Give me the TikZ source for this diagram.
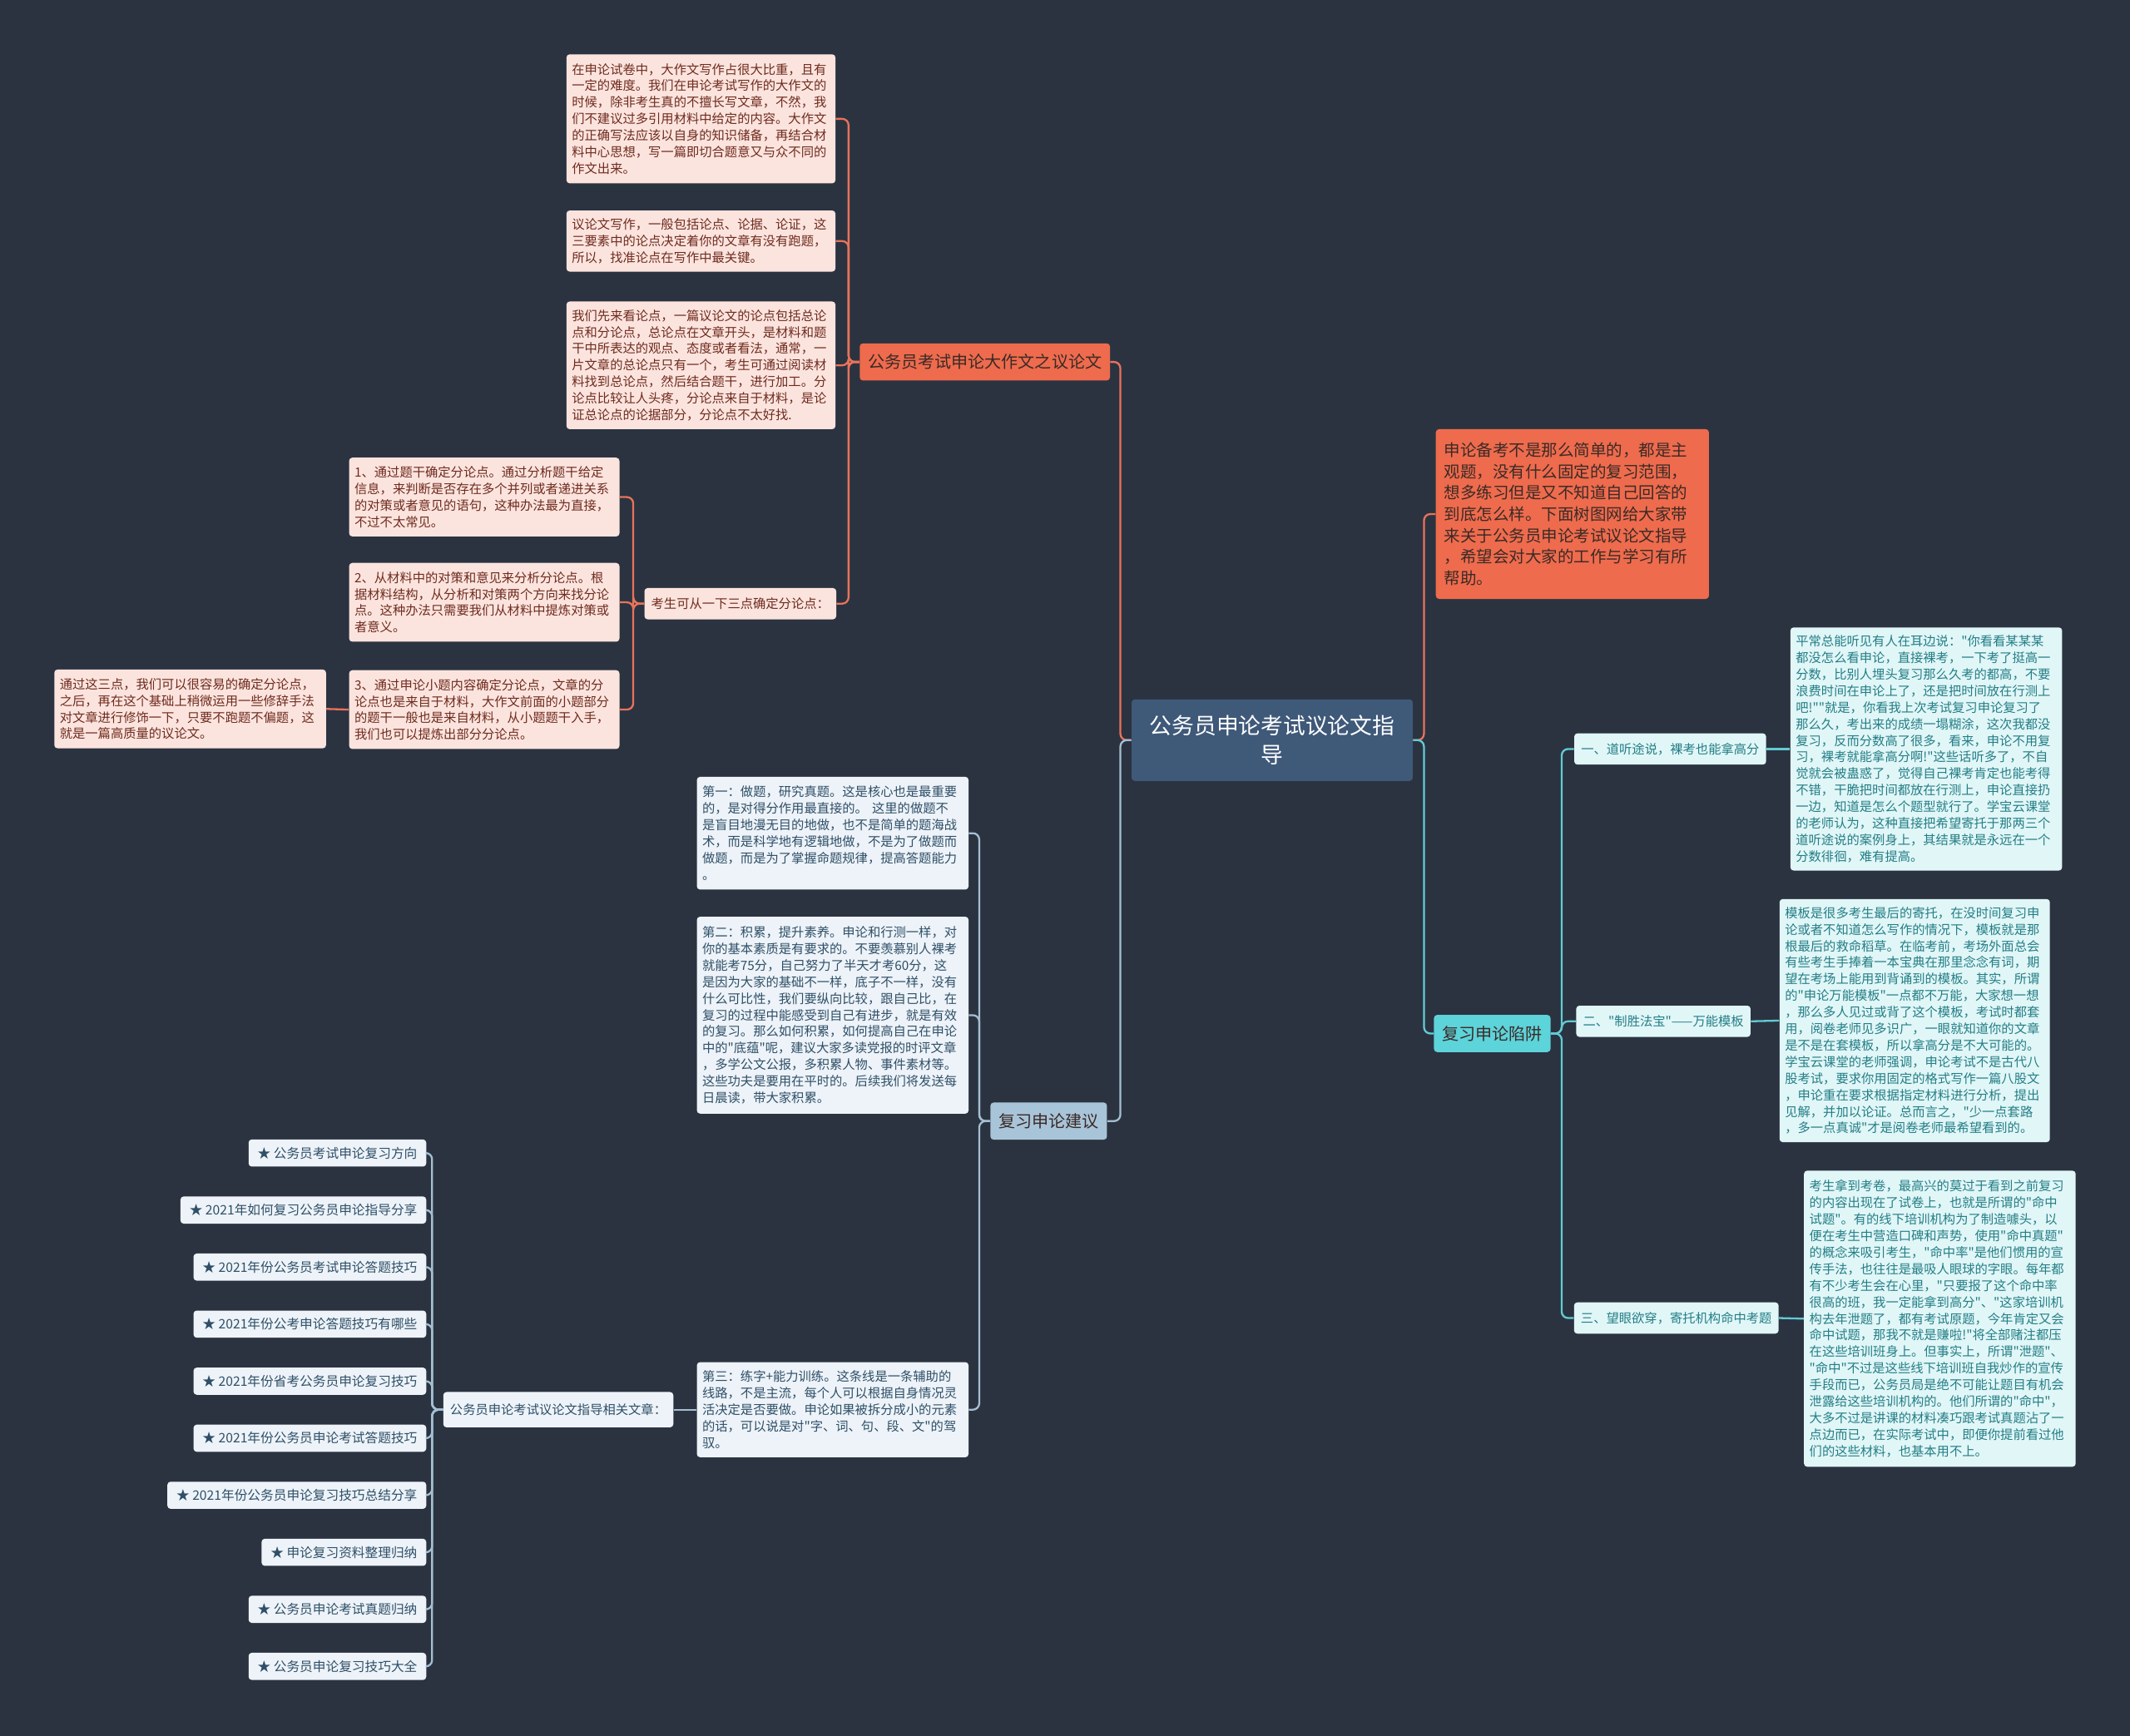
\documentclass[tikz,border=0pt]{standalone}
\usepackage{fontspec}
\newfontfamily\cjk{Noto Sans CJK SC}
\usepackage{xcolor}
\usepackage{tikz}
\usetikzlibrary{positioning}

\definecolor{bgdark}{HTML}{2B3341}
\definecolor{pinkfill}{HTML}{FCE4DE}
\definecolor{pinktext}{HTML}{6E2B1F}
\definecolor{orangefill}{HTML}{EE6B4D}
\definecolor{orangeline}{HTML}{E9735A}
\definecolor{darktext}{HTML}{3A2A26}
\definecolor{cyanfill}{HTML}{E1F6F7}
\definecolor{cyantext}{HTML}{237E86}
\definecolor{cyanmain}{HTML}{5DD3DA}
\definecolor{cyanline}{HTML}{62CCD3}
\definecolor{centerfill}{HTML}{3F5979}
\definecolor{bluefill}{HTML}{EDF3F8}
\definecolor{bluetext}{HTML}{2F4F68}
\definecolor{bluemain}{HTML}{A8C4D9}
\definecolor{blueline}{HTML}{A5BFD2}

\begin{document}
\begin{tikzpicture}[x=0.03cm, y=-0.03cm,
  small/.style={font=\cjk\fontsize{8}{10.4}\selectfont},
  pinkbox/.style={small, fill=pinkfill, text=pinktext, rounded corners=2pt, align=left, inner xsep=0.12cm, inner ysep=0pt},
  cyanbox/.style={small, fill=cyanfill, text=cyantext, rounded corners=2pt, align=left, inner xsep=0.12cm, inner ysep=0pt},
  bluebox/.style={small, fill=bluefill, text=bluetext, rounded corners=2pt, align=left, inner xsep=0.12cm, inner ysep=0pt},
  tag/.style={font=\cjk\fontsize{10.5}{13}\selectfont, rounded corners=2pt, inner xsep=0.18cm, inner ysep=0pt, minimum height=0.82cm},
  smalltag/.style={small, rounded corners=2pt, inner xsep=0.15cm, inner ysep=0pt, minimum height=0.69cm},
  listitem/.style={font=\cjk\fontsize{8.2}{10.4}\selectfont, fill=bluefill, text=bluetext, rounded corners=2pt, inner xsep=0.2cm, inner ysep=0pt, minimum height=0.6cm, anchor=east},
  linkorange/.style={draw=orangeline, line width=1.2pt, rounded corners=4pt},
  linkcyan/.style={draw=cyanline, line width=1.2pt, rounded corners=4pt},
  linkblue/.style={draw=blueline, line width=1.2pt, rounded corners=4pt}]

% background
\fill[bgdark] (0,0) rectangle (1568,1278);
\useasboundingbox (0,0) rectangle (1568,1278);

% centre
\node[fill=centerfill, text=white, rounded corners=2pt, align=center, minimum width=6.21cm, minimum height=1.8cm,
  font=\cjk\fontsize{14}{18.5}\selectfont] (center) at (936.5,545) {公务员申论考试议论文指\\导};

% upper left branch
\node[tag, fill=orangefill, text=darktext] (essay) at (725,266.5) {公务员考试申论大作文之议论文};
\node[pinkbox, text width=5.7cm, minimum height=2.85cm] (a1) at (516,87.5) {在申论试卷中，大作文写作占很大比重，且有\\一定的难度。我们在申论考试写作的大作文的\\时候，除非考生真的不擅长写文章，不然，我\\们不建议过多引用材料中给定的内容。大作文\\的正确写法应该以自身的知识储备，再结合材\\料中心思想，写一篇即切合题意又与众不同的\\作文出来。};
\node[pinkbox, text width=5.7cm, minimum height=1.35cm] (a2) at (516,177.5) {议论文写作，一般包括论点、论据、论证，这\\三要素中的论点决定着你的文章有没有跑题，\\所以，找准论点在写作中最关键。};
\node[pinkbox, text width=5.7cm, minimum height=2.82cm] (a3) at (516,269) {我们先来看论点，一篇议论文的论点包括总论\\点和分论点，总论点在文章开头，是材料和题\\干中所表达的观点、态度或者看法，通常，一\\片文章的总论点只有一个，考生可通过阅读材\\料找到总论点，然后结合题干，进行加工。分\\论点比较让人头疼，分论点来自于材料，是论\\证总论点的论据部分，分论点不太好找.};
\node[smalltag, fill=pinkfill, text=pinktext] (three) at (545,444.5) {考生可从一下三点确定分论点：};
\node[pinkbox, text width=5.73cm, minimum height=1.74cm] (b1) at (356.5,366) {1、通过题干确定分论点。通过分析题干给定\\信息，来判断是否存在多个并列或者递进关系\\的对策或者意见的语句，这种办法最为直接，\\不过不太常见。};
\node[pinkbox, text width=5.73cm, minimum height=1.74cm] (b2) at (356.5,443.5) {2、从材料中的对策和意见来分析分论点。根\\据材料结构，从分析和对策两个方向来找分论\\点。这种办法只需要我们从材料中提炼对策或\\者意义。};
\node[pinkbox, text width=5.73cm, minimum height=1.74cm] (b3) at (356.5,522.5) {3、通过申论小题内容确定分论点，文章的分\\论点也是来自于材料，大作文前面的小题部分\\的题干一般也是来自材料，从小题题干入手，\\我们也可以提炼出部分分论点。};
\node[pinkbox, text width=5.76cm, minimum height=1.74cm] (b4) at (140,522) {通过这三点，我们可以很容易的确定分论点，\\之后，再在这个基础上稍微运用一些修辞手法\\对文章进行修饰一下，只要不跑题不偏题，这\\就是一篇高质量的议论文。};

% upper right intro
\node[fill=orangefill, text=darktext, rounded corners=2pt, align=left, text width=5.67cm, inner xsep=0.18cm, inner ysep=0pt,
  minimum height=3.75cm, font=\cjk\fontsize{10.2}{13.4}\selectfont] (intro) at (1157.5,378.5) {申论备考不是那么简单的，都是主\\观题，没有什么固定的复习范围，\\想多练习但是又不知道自己回答的\\到底怎么样。下面树图网给大家带\\来关于公务员申论考试议论文指导\\，希望会对大家的工作与学习有所\\帮助。};

% lower right branch
\node[tag, fill=cyanmain, text=darktext] (trap) at (1098.5,761) {复习申论陷阱};
\node[smalltag, fill=cyanfill, text=cyantext] (t1) at (1229.5,551.5) {一、道听途说，裸考也能拿高分};
\node[smalltag, fill=cyanfill, text=cyantext] (t2) at (1224.5,752) {二、"制胜法宝"——万能模板};
\node[smalltag, fill=cyanfill, text=cyantext] (t3) at (1234,970.5) {三、望眼欲穿，寄托机构命中考题};
\node[cyanbox, text width=5.76cm, minimum height=5.37cm] (r1) at (1418,551.5) {平常总能听见有人在耳边说："你看看某某某\\都没怎么看申论，直接裸考，一下考了挺高一\\分数，比别人埋头复习那么久考的都高，不要\\浪费时间在申论上了，还是把时间放在行测上\\吧!""就是，你看我上次考试复习申论复习了\\那么久，考出来的成绩一塌糊涂，这次我都没\\复习，反而分数高了很多，看来，申论不用复\\习，裸考就能拿高分啊!"这些话听多了，不自\\觉就会被蛊惑了，觉得自己裸考肯定也能考得\\不错，干脆把时间都放在行测上，申论直接扔\\一边，知道是怎么个题型就行了。学宝云课堂\\的老师认为，这种直接把希望寄托于那两三个\\道听途说的案例身上，其结果就是永远在一个\\分数徘徊，难有提高。};
\node[cyanbox, text width=5.73cm, minimum height=5.37cm] (r2) at (1409.5,751.5) {模板是很多考生最后的寄托，在没时间复习申\\论或者不知道怎么写作的情况下，模板就是那\\根最后的救命稻草。在临考前，考场外面总会\\有些考生手捧着一本宝典在那里念念有词，期\\望在考场上能用到背诵到的模板。其实，所谓\\的"申论万能模板"一点都不万能，大家想一想\\，那么多人见过或背了这个模板，考试时都套\\用，阅卷老师见多识广，一眼就知道你的文章\\是不是在套模板，所以拿高分是不大可能的。\\学宝云课堂的老师强调，申论考试不是古代八\\股考试，要求你用固定的格式写作一篇八股文\\，申论重在要求根据指定材料进行分析，提出\\见解，并加以论证。总而言之，"少一点套路\\，多一点真诚"才是阅卷老师最希望看到的。};
\node[cyanbox, text width=5.76cm, minimum height=6.54cm] (r3) at (1428,971) {考生拿到考卷，最高兴的莫过于看到之前复习\\的内容出现在了试卷上，也就是所谓的"命中\\试题"。有的线下培训机构为了制造噱头，以\\便在考生中营造口碑和声势，使用"命中真题"\\的概念来吸引考生，"命中率"是他们惯用的宣\\传手法，也往往是最吸人眼球的字眼。每年都\\有不少考生会在心里，"只要报了这个命中率\\很高的班，我一定能拿到高分"、"这家培训机\\构去年泄题了，都有考试原题，今年肯定又会\\命中试题，那我不就是赚啦!"将全部赌注都压\\在这些培训班身上。但事实上，所谓"泄题"、\\"命中"不过是这些线下培训班自我炒作的宣传\\手段而已，公务员局是绝不可能让题目有机会\\泄露给这些培训机构的。他们所谓的"命中"，\\大多不过是讲课的材料凑巧跟考试真题沾了一\\点边而已，在实际考试中，即便你提前看过他\\们的这些材料，也基本用不上。};

% lower left branch
\node[tag, fill=bluemain, text=darktext] (advice) at (772,825.5) {复习申论建议};
\node[bluebox, text width=5.76cm, minimum height=2.49cm] (m1) at (613,613.5) {第一：做题，研究真题。这是核心也是最重要\\的，是对得分作用最直接的。 这里的做题不\\是盲目地漫无目的地做，也不是简单的题海战\\术，而是科学地有逻辑地做，不是为了做题而\\做题，而是为了掌握命题规律，提高答题能力\\。};
\node[bluebox, text width=5.76cm, minimum height=4.35cm] (m2) at (613,747.5) {第二：积累，提升素养。申论和行测一样，对\\你的基本素质是有要求的。不要羡慕别人裸考\\就能考75分，自己努力了半天才考60分，这\\是因为大家的基础不一样，底子不一样，没有\\什么可比性，我们要纵向比较，跟自己比，在\\复习的过程中能感受到自己有进步，就是有效\\的复习。那么如何积累，如何提高自己在申论\\中的"底蕴"呢，建议大家多读党报的时评文章\\，多学公文公报，多积累人物、事件素材等。\\这些功夫是要用在平时的。后续我们将发送每\\日晨读，带大家积累。};
\node[bluebox, text width=5.76cm, minimum height=2.1cm] (m3) at (613,1038) {第三：练字+能力训练。这条线是一条辅助的\\线路，不是主流，每个人可以根据自身情况灵\\活决定是否要做。申论如果被拆分成小的元素\\的话，可以说是对"字、词、句、段、文"的驾\\驭。};
\node[smalltag, fill=bluefill, text=bluetext, minimum height=0.78cm] (related) at (411,1038) {公务员申论考试议论文指导相关文章：};

% related article list
\foreach \name/\title [count=\k from 0] in {
  l0/公务员考试申论复习方向,
  l1/2021年如何复习公务员申论指导分享,
  l2/2021年份公务员考试申论答题技巧,
  l3/2021年份公考申论答题技巧有哪些,
  l4/2021年份省考公务员申论复习技巧,
  l5/2021年份公务员申论考试答题技巧,
  l6/2021年份公务员申论复习技巧总结分享,
  l7/申论复习资料整理归纳,
  l8/公务员申论考试真题归纳,
  l9/公务员申论复习技巧大全}{
  \node[listitem] (\name) at (314,849+42*\k) {★ \title};
  \draw[linkblue] (related.west) -- ++(-8,0) |- (\name.east);
}

% connectors
\draw[linkorange] (center.west) -- ++(-8,0) |- (essay.east);
\draw[linkblue] (center.west) -- ++(-8,0) |- (advice.east);
\draw[linkorange] (center.east) -- ++(8,0) |- (intro.west);
\draw[linkcyan] (center.east) -- ++(8,0) |- (trap.west);

\foreach \child in {a1,a2,a3,three}
  \draw[linkorange] (essay.west) -- ++(-8,0) |- (\child.east);
\foreach \child in {b1,b2,b3}
  \draw[linkorange] (three.west) -- ++(-8,0) |- (\child.east);
\draw[linkorange] (b3.west) -- (b4.east);

\foreach \child in {t1,t2,t3}
  \draw[linkcyan] (trap.east) -- ++(8,0) |- (\child.west);
\draw[linkcyan] (t1.east) -- (r1.west);
\draw[linkcyan] (t2.east) -- (r2.west);
\draw[linkcyan] (t3.east) -- (r3.west);

\foreach \child in {m1,m2,m3}
  \draw[linkblue] (advice.west) -- ++(-8,0) |- (\child.east);
\draw[linkblue] (m3.west) -- (related.east);
\end{tikzpicture}
\end{document}
